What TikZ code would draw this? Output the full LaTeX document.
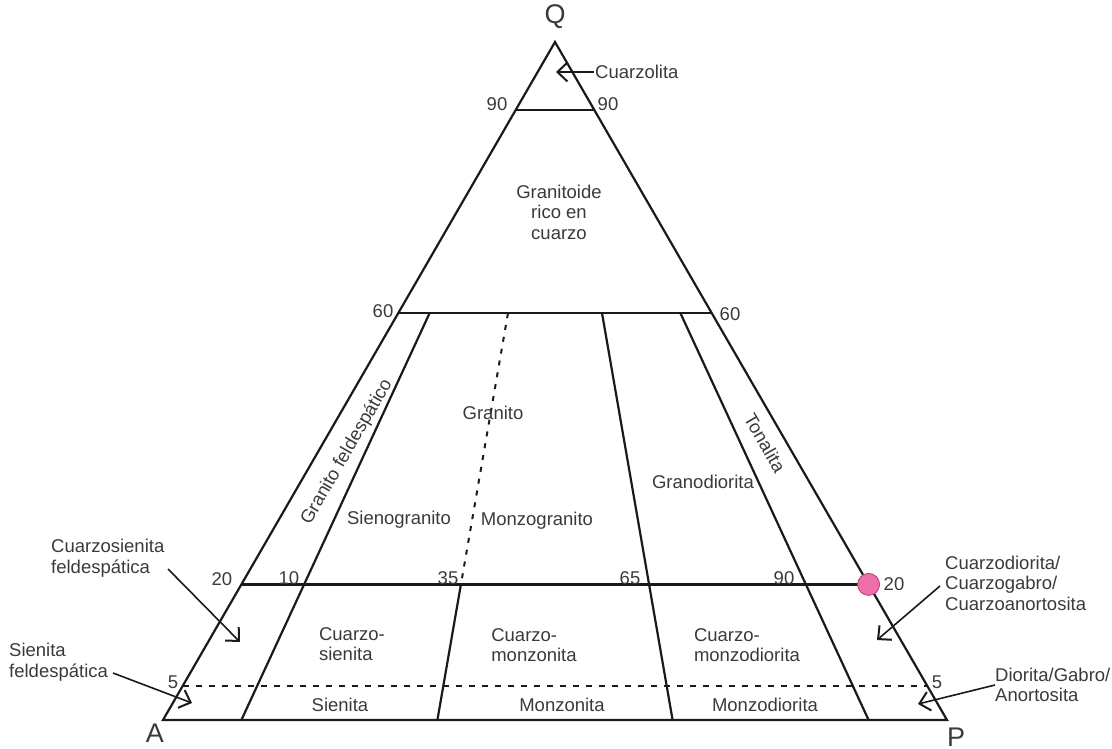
\documentclass[tikz,border=0pt]{standalone}
\usepackage{fontspec}
\setmainfont{Liberation Sans}
\usetikzlibrary{calc,arrows.meta}
\definecolor{txt}{HTML}{3A3A3A}
\definecolor{ln}{HTML}{1A1A1A}
\definecolor{pinkfill}{HTML}{EE6FAA}
\definecolor{pinkedge}{HTML}{A8457A}
\tikzset{
  edge/.style={draw=ln, line width=2.2pt},
  dashline/.style={draw=ln, line width=1.8pt, dash pattern=on 6pt off 7pt},
  lbl/.style={text=txt, font=\fontsize{18.5}{20.5}\selectfont, inner sep=1pt},
  big/.style={text=txt, font=\fontsize{27}{30}\selectfont, inner sep=0pt},
  multi/.style={lbl, align=left},
  lead/.style={draw=ln, line width=1.6pt, -{Straight Barb[length=10pt,width=19pt,line width=2pt]}}
}
\begin{document}
\begin{tikzpicture}[x=1pt,y=-1pt]
\useasboundingbox (0,0) rectangle (1112,748);
% vertices
\coordinate (A) at (163,720);
\coordinate (P) at (947,720);
\coordinate (Q) at (555,42);
% base points of the field lines
\coordinate (B10) at (241.4,720);
\coordinate (B35) at (437.4,720);
\coordinate (B65) at (672.6,720);
\coordinate (B90) at (868.6,720);
% horizontal levels on the sides
\coordinate (L90) at ($(Q)!0.1!(A)$);
\coordinate (R90) at ($(Q)!0.1!(P)$);
\coordinate (L60) at ($(Q)!0.4!(A)$);
\coordinate (R60) at ($(Q)!0.4!(P)$);
\coordinate (L20) at ($(Q)!0.8!(A)$);
\coordinate (R20) at ($(Q)!0.8!(P)$);
\coordinate (L5) at ($(Q)!0.95!(A)$);
\coordinate (R5) at ($(Q)!0.95!(P)$);
% field line points
\coordinate (T10) at ($(Q)!0.4!(B10)$);
\coordinate (T35) at ($(Q)!0.4!(B35)$);
\coordinate (M35) at ($(Q)!0.8!(B35)$);
\coordinate (T65) at ($(Q)!0.4!(B65)$);
\coordinate (T90) at ($(Q)!0.4!(B90)$);

% triangle and lines
\draw[edge, line join=miter] (A) -- (Q) -- (P) -- cycle;
\draw[edge] (L90) -- (R90);
\draw[edge] (L60) -- (R60);
\draw[edge] (L20) -- (R20);
\draw[dashline] (L5) -- (R5);
\draw[edge] (T10) -- (B10);
\draw[edge] (M35) -- (B35);
\draw[draw=ln, line width=2pt, dash pattern=on 5pt off 7pt] (T35) -- (M35);
\draw[edge] (T65) -- (B65);
\draw[edge] (T90) -- (B90);

% pink point
\node[circle, fill=pinkfill, draw=pinkedge, line width=0.8pt, minimum size=22pt, inner sep=0pt] (pt) at (R20) {};

% vertex labels
\node[big] (lQ) at (555,17) {Q};
\node[big] (lA) at (155,733) {A};
\node[big] (lP) at (956,737) {P};

% numbers
\node[lbl] (n90l) at (497,104) {90};
\node[lbl] (n90r) at (608,104) {90};
\node[lbl] (n60l) at (383,311) {60};
\node[lbl] (n60r) at (730,314) {60};
\node[lbl] (n20l) at (222,579) {20};
\node[lbl] (n10) at (289,578) {10};
\node[lbl] (n35) at (448,578) {35};
\node[lbl] (n65) at (630,578) {65};
\node[lbl] (n90b) at (784,578) {90};
\node[lbl] (n20r) at (894,584) {20};
\node[lbl] (n5l) at (173,682) {5};
\node[lbl] (n5r) at (937,682) {5};

% region labels
\node[lbl, align=center] (gr) at (559,212) {Granitoide\\rico en\\cuarzo};
\node[lbl] (granito) at (493,413) {Granito};
\node[lbl] (sieno) at (399,520) {Sienogranito};
\node[lbl] (monzo) at (537,521) {Monzogranito};
\node[lbl] (grano) at (703,482) {Granodiorita};
\node[lbl, rotate=-60] (tona) at (765,443) {Tonalita};
\node[lbl, rotate=60] (gfeld) at (347,452) {Granito feldespático};
\node[multi] (cs) at (352,644) {Cuarzo-\\sienita};
\node[multi] (cm) at (534,645) {Cuarzo-\\monzonita};
\node[multi] (cmd) at (747,645) {Cuarzo-\\monzodiorita};
\node[lbl] (sien) at (340,705) {Sienita};
\node[lbl] (monz) at (562,705) {Monzonita};
\node[lbl] (monzd) at (765,705) {Monzodiorita};

% outside labels with leaders
\node[lbl, anchor=west] (cuarzolita) at (594,72) {Cuarzolita};
\coordinate (tQ) at (556,72);
\draw[lead] (cuarzolita.west) -- (tQ);

\node[multi, anchor=west] (csf) at (50,558) {Cuarzosienita\\feldespática};
\coordinate (csf1) at (168,569);
\coordinate (csf2) at (240,642);
\draw[lead] (csf1) -- (csf2);

\node[multi, anchor=west] (sf) at (8,662) {Sienita\\feldespática};
\coordinate (sf1) at (113,673);
\coordinate (sf2) at (192,703);
\draw[lead] (sf1) -- (sf2);

\node[multi, anchor=west] (cd) at (944,583) {Cuarzodiorita/\\Cuarzogabro/\\Cuarzoanortosita};
\coordinate (cd1) at (940,586);
\coordinate (cd2) at (877,640);
\draw[lead] (cd1) -- (cd2);

\node[multi, anchor=west] (dg) at (994,685) {Diorita/Gabro/\\Anortosita};
\coordinate (dg1) at (995,685);
\coordinate (dg2) at (918,704);
\draw[lead] (dg1) -- (dg2);
\end{tikzpicture}
\end{document}
